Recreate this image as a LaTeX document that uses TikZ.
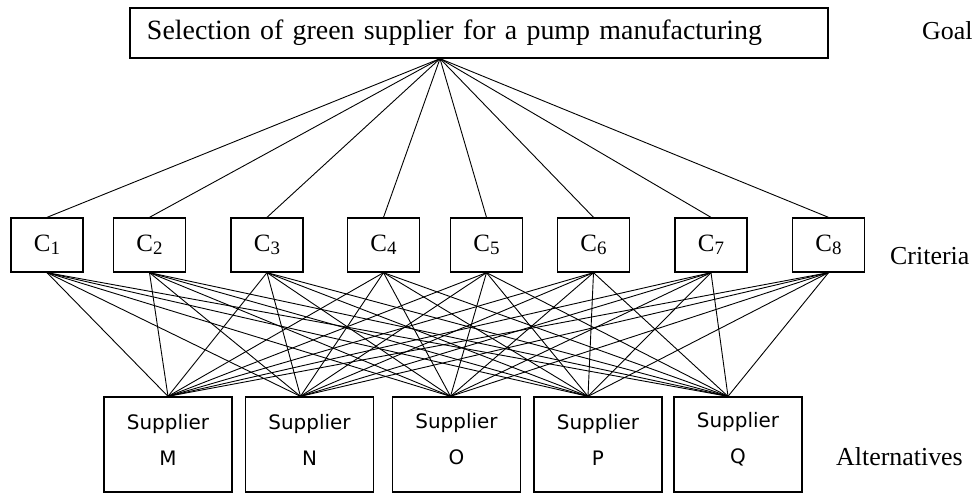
\documentclass[tikz,border=0pt]{standalone}
\usepackage{fontspec}
\setmainfont{Liberation Serif}
\newfontfamily\supfont{DejaVu Sans}
\newcommand\Csub[1]{C\raisebox{-3bp}{\fontsize{19}{19}\selectfont #1}}
\begin{document}
\begin{tikzpicture}[x=1bp,y=-1bp,
  box/.style={draw, line width=1.3bp, inner sep=0pt},
  crit/.style={box, minimum width=72bp, minimum height=54bp, font=\fontsize{25}{27}\selectfont},
  alt/.style={box, minimum width=128bp, minimum height=95bp},
  alttext/.style={align=center, inner sep=0pt, font=\supfont\fontsize{20}{36}\selectfont},
  lab/.style={inner sep=0pt, font=\fontsize{26}{28}\selectfont},
  link/.style={line width=0.9bp}]
\useasboundingbox (0,0) rectangle (975,493);
% goal
\node[box, minimum width=698bp, minimum height=50bp, text width=664bp, inner xsep=17bp,
      align=left, font=\fontsize{28}{30}\selectfont] (goal) at (479,33)
      {Selection of green supplier for a pump manufacturing};
\coordinate (gp) at ([xshift=-39bp]goal.south);
% criteria
\node[crit] (c1) at (47,245) {\Csub{1}};
\node[crit] (c2) at (149.5,245) {\Csub{2}};
\node[crit] (c3) at (267,245) {\Csub{3}};
\node[crit] (c4) at (383.5,245) {\Csub{4}};
\node[crit] (c5) at (486.5,245) {\Csub{5}};
\node[crit] (c6) at (593.5,245) {\Csub{6}};
\node[crit] (c7) at (711,245) {\Csub{7}};
\node[crit] (c8) at (828.5,245) {\Csub{8}};
% alternatives
\node[alt] (sM) at (168,444.5) {};
\node[alt] (sN) at (309.5,444.5) {};
\node[alt] (sO) at (456.5,444.5) {};
\node[alt] (sP) at (598,444.5) {};
\node[alt] (sQ) at (738,444.5) {};
\foreach \s in {M,N,O,P,Q}{
  \node[alttext] (t\s) at ([yshift=5bp]s\s.center) {Supplier\\\s};
}
\coordinate (pM) at (sM.north);
\coordinate (pN) at ([xshift=-9bp]sN.north);
\coordinate (pO) at ([xshift=-6bp]sO.north);
\coordinate (pP) at ([xshift=-10bp]sP.north);
\coordinate (pQ) at ([xshift=-10bp]sQ.north);
% connectors
\foreach \i in {1,...,8}{
  \draw[link] (gp) -- (c\i.north);
  \foreach \s in {M,N,O,P,Q}{
    \draw[link] (c\i.south) -- (p\s);
  }
}
% level labels
\node[lab, anchor=base west] (lgoal) at (922,40) {Goal};
\node[lab, anchor=base west] (lcrit) at (890,265) {Criteria};
\node[lab, anchor=base west] (lalt) at (836,465) {Alternatives};
\end{tikzpicture}
\end{document}
